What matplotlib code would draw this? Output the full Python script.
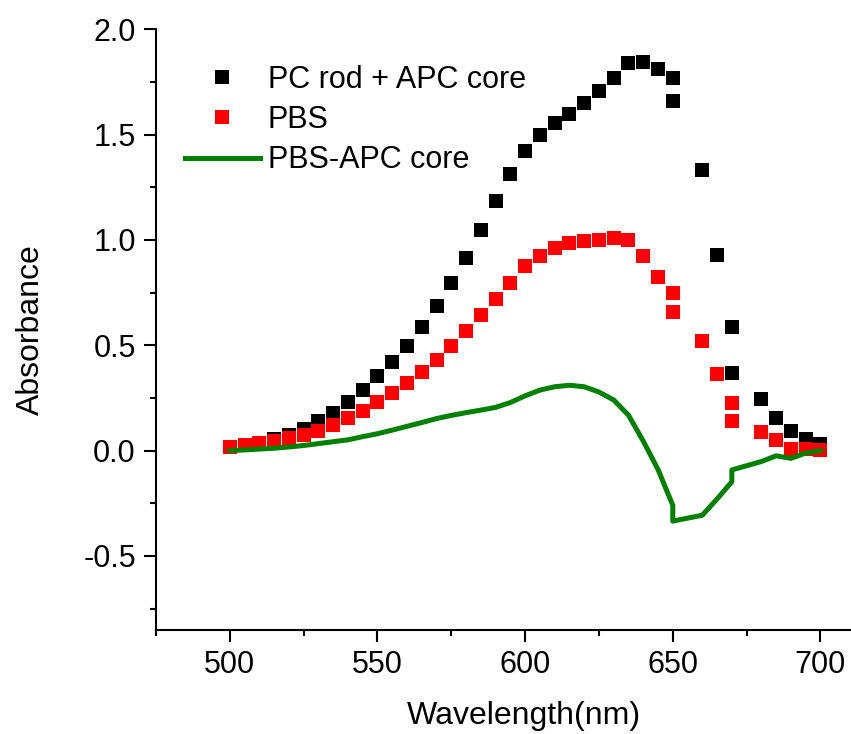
#!/usr/bin/env python3
import matplotlib
matplotlib.use("Agg")
import matplotlib.pyplot as plt
from matplotlib.ticker import MultipleLocator

plt.rcParams['font.family'] = ['Liberation Sans', 'DejaVu Sans']

# wavelength (nm); 650 and 670 appear twice in the measured data
wavelength = [500, 505, 510, 515, 520, 525, 530, 535, 540, 545,
              550, 555, 560, 565, 570, 575, 580, 585, 590, 595,
              600, 605, 610, 615, 620, 625, 630, 635, 640, 645,
              650, 650, 660, 665, 670, 670, 680, 685, 690, 695, 700]

# PC rod + APC core
pc_rod_apc = [0.018, 0.026, 0.038, 0.054, 0.075, 0.102, 0.138, 0.180, 0.230, 0.286,
              0.353, 0.421, 0.496, 0.588, 0.687, 0.798, 0.913, 1.045, 1.185, 1.315,
              1.422, 1.497, 1.554, 1.600, 1.652, 1.709, 1.771, 1.838, 1.843, 1.812,
              1.769, 1.660, 1.333, 0.929, 0.588, 0.367, 0.247, 0.154, 0.091, 0.054, 0.030]

# PBS
pbs = [0.019, 0.027, 0.035, 0.046, 0.059, 0.075, 0.095, 0.123, 0.154, 0.189,
       0.229, 0.273, 0.320, 0.375, 0.429, 0.496, 0.568, 0.643, 0.720, 0.798,
       0.874, 0.926, 0.962, 0.986, 0.995, 1.001, 1.009, 0.998, 0.926, 0.826,
       0.746, 0.660, 0.522, 0.364, 0.226, 0.142, 0.087, 0.051, 0.008, 0.006, 0.004]

# PBS - APC core difference spectrum
pbs_minus_apc = [0.000, 0.003, 0.007, 0.011, 0.017, 0.024, 0.033, 0.042, 0.051, 0.066,
                 0.080, 0.097, 0.115, 0.133, 0.152, 0.167, 0.180, 0.192, 0.205, 0.228,
                 0.260, 0.287, 0.303, 0.310, 0.303, 0.278, 0.240, 0.168, 0.045, -0.090,
                 -0.260, -0.335, -0.307, -0.230, -0.148, -0.092, -0.052, -0.025, -0.037, -0.012, 0.000]

fig = plt.figure(figsize=(8.51, 7.34), dpi=100)
ax = fig.add_axes([0.1833, 0.1417, 0.8155, 0.8183])

ax.plot(wavelength, pc_rod_apc, 's', color='black', ms=9.5, mew=0, label='PC rod + APC core', zorder=2)
ax.plot(wavelength, pbs, 's', color='#ff0000', ms=9.5, mew=0, label='PBS', zorder=3)
ax.plot(wavelength, pbs_minus_apc, '-', color='#008000', lw=3.6, label='PBS-APC core', zorder=4)

ax.set_xlim(475, 710)
ax.set_ylim(-0.852, 2.0)
ax.xaxis.set_major_locator(MultipleLocator(50))
ax.xaxis.set_minor_locator(MultipleLocator(25))
ax.yaxis.set_major_locator(MultipleLocator(0.5))
ax.yaxis.set_minor_locator(MultipleLocator(0.25))
ax.yaxis.set_major_formatter(plt.FuncFormatter(lambda v, p: f"{v:.1f}"))

for side in ['top', 'right']:
    ax.spines[side].set_visible(False)
for side in ['left', 'bottom']:
    ax.spines[side].set_linewidth(1.5)

ax.tick_params(which='major', direction='out', length=8.5, width=1.5, labelsize=22, pad=6)
ax.tick_params(which='minor', direction='out', length=4, width=1.5)

ax.set_xlabel('Wavelength(nm)', fontsize=23, labelpad=15, x=0.53)
ax.set_ylabel('Absorbance', fontsize=23, labelpad=27)

ax.legend(loc='upper left', bbox_to_anchor=(0.2174, 0.9114), bbox_transform=fig.transFigure,
          frameon=False, fontsize=22, borderpad=0, borderaxespad=0,
          handlelength=2.45, handletextpad=0.25, labelspacing=0.33, numpoints=1)

fig.savefig('out.png', dpi=100)
